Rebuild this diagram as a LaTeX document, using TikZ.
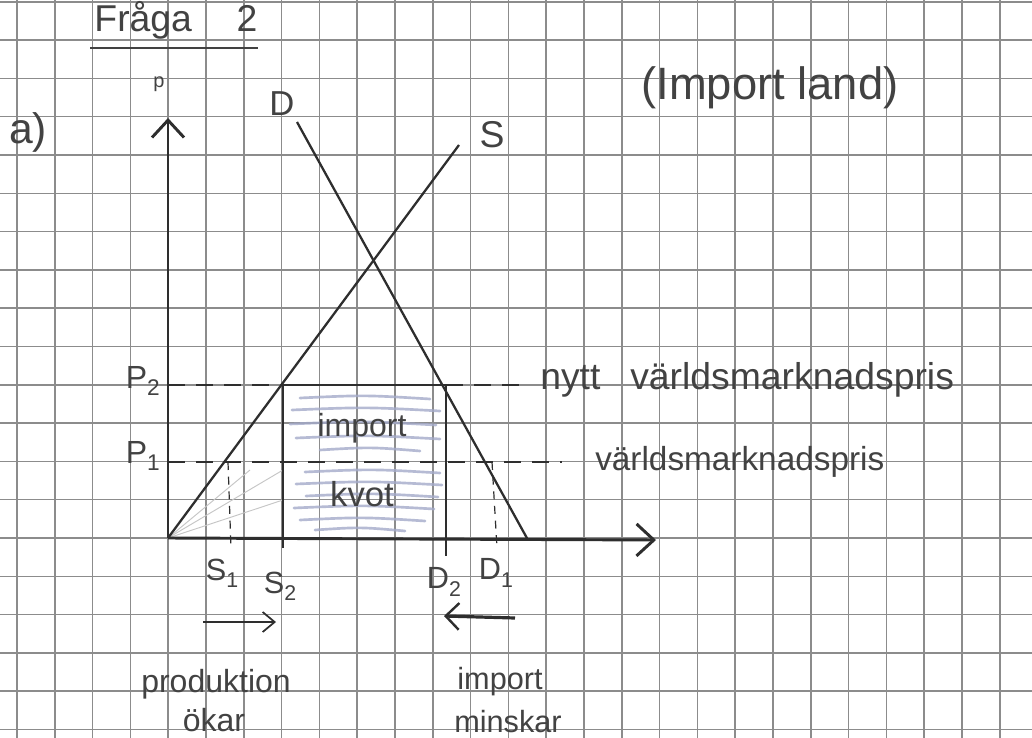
\documentclass[tikz,border=0pt]{standalone}
\usepackage{fontspec}
\setmainfont{Liberation Sans}
\usetikzlibrary{arrows.meta}
\definecolor{ink}{HTML}{2E2E2E}
\definecolor{pencil}{HTML}{424242}
\definecolor{gridc}{HTML}{8C8C8C}
\definecolor{hatchc}{HTML}{A4AACA}
\begin{document}
\begin{tikzpicture}[x=0.75pt,y=-0.75pt,
  gridline/.style={gridc, line width=1.1pt},
  axisline/.style={ink, line width=2.2pt},
  curveline/.style={ink, line width=1.7pt},
  boxline/.style={ink, line width=1.8pt},
  priceline/.style={ink, line width=1.5pt, dash pattern=on 13pt off 8pt},
  dropline/.style={ink, line width=0.9pt, dash pattern=on 6pt off 5pt},
  hatchline/.style={hatchc, line width=2pt, line cap=round, opacity=0.8},
  faintline/.style={gray!45, line width=0.7pt},
  lbl/.style={text=pencil, inner sep=0pt},
  hand/.style={font=\fontsize{#1}{#1}\selectfont},
  chev/.style={-{Straight Barb[length=13pt,width=24pt,line width=2.2pt]}}
]
\useasboundingbox (0,0) rectangle (1032,738);
\fill[white] (0,0) rectangle (1032,738);
% grid paper
\foreach \i in {0,...,26} \draw[gridline] ({17+37.8*\i},0) -- ({17+37.8*\i},738);
\foreach \j in {0,...,19} \draw[gridline] (0,{1.8+38.3*\j}) -- (1032,{1.8+38.3*\j});

% coordinates
\coordinate (O) at (168,538);
\coordinate (ytop) at (168,118);
\coordinate (xend) at (656,540);
\coordinate (Stop) at (459,145);
\coordinate (Dtop) at (297,122);
\coordinate (Dbot) at (528,540);
\coordinate (P2a) at (168,385);
\coordinate (P2s) at (283,385);
\coordinate (P2d) at (446,385);
\coordinate (P2e) at (525,385);
\coordinate (P1a) at (168,462);
\coordinate (P1e) at (562,462);
\coordinate (S1t) at (228,462);
\coordinate (S1b) at (231,548);
\coordinate (D1t) at (492,462);
\coordinate (D1b) at (497,548);
\coordinate (S2b) at (283,548);
\coordinate (D2b) at (446,556);

% faint pencil shading under S
\draw[faintline] (O) -- (283,470);
\draw[faintline] (O) -- (283,500);
\draw[faintline] (O) -- (250,470);

% hatching in import box
\foreach \y/\a/\b in {398/300/430, 410/292/440, 424/290/436, 438/296/440, 450/320/420, 472/305/440, 484/296/442, 496/306/438, 508/294/434, 520/300/425, 530/315/405}
  \draw[hatchline] (\a,\y) .. controls ({(\a+\b)/2},{\y-3}) .. (\b,{\y+1});

% axes
\draw[axisline, chev] (O) -- (ytop);
\draw[axisline, chev] (O) -- (xend);

% supply and demand
\draw[curveline] (O) -- (Stop);
\draw[curveline] (Dtop) -- (Dbot);

% price lines
\draw[priceline] (P2a) -- (P2s);
\draw[priceline] (P2d) -- (P2e);
\draw[priceline] (P1a) -- (P1e);

% import box
\draw[boxline] (S2b) -- (P2s) -- (P2d) -- (D2b);

% drop lines
\draw[dropline] (S1t) -- (S1b);
\draw[dropline] (D1t) -- (D1b);

% labels
\node[lbl, hand=28] (title) at (176,20) {Fråga\hspace{1.2em}2};
\coordinate (ul1) at (90,48);
\coordinate (ul2) at (258,48);
\draw[pencil, line width=1.6pt] (ul1) -- (ul2);
\node[lbl, hand=15] (plab) at (159,84) {p};
\node[lbl, hand=32] (alab) at (28,132) {a)};
\node[lbl, hand=26] (Dlab) at (282,104) {D};
\node[lbl, hand=28] (Slab) at (492,135) {S};
\node[lbl, hand=34] (imland) at (770,88) {(Import land)};
\node[lbl, hand=24, anchor=east] (P2lab) at (160,381) {P\raisebox{-0.45ex}{\fontsize{17}{17}\selectfont 2}};
\node[lbl, hand=24, anchor=east] (P1lab) at (160,456) {P\raisebox{-0.45ex}{\fontsize{17}{17}\selectfont 1}};
\node[lbl, hand=23] (S1lab) at (222,573) {S\raisebox{-0.45ex}{\fontsize{16}{16}\selectfont 1}};
\node[lbl, hand=23] (S2lab) at (280,586) {S\raisebox{-0.45ex}{\fontsize{16}{16}\selectfont 2}};
\node[lbl, hand=23] (D2lab) at (444,582) {D\raisebox{-0.45ex}{\fontsize{16}{16}\selectfont 2}};
\node[lbl, hand=23] (D1lab) at (496,573) {D\raisebox{-0.45ex}{\fontsize{16}{16}\selectfont 1}};
\node[lbl, hand=28, anchor=west] (nytt) at (540,380) {nytt\hspace{0.8em}världsmarknadspris};
\node[lbl, hand=25, anchor=west] (varld) at (595,462) {världsmarknadspris};
\node[lbl, hand=24] (imp) at (362,428) {import};
\node[lbl, hand=26] (kvot) at (362,494) {kvot};
\node[lbl, hand=24] (prod) at (216,684) {produktion};
\node[lbl, hand=24] (okar) at (214,720) {ökar};
\node[lbl, hand=23] (imp2) at (500,682) {import};
\node[lbl, hand=23] (mins) at (508,722) {minskar};

% shift arrows
\coordinate (ra1) at (203,622);
\coordinate (ra2) at (276,622);
\coordinate (la1) at (515,618);
\coordinate (la2) at (444,616);
\draw[ink, line width=1.3pt, -{Straight Barb[length=9pt,width=15pt,line width=1.3pt]}] (ra1) -- (ra2);
\draw[ink, line width=2.4pt, -{Straight Barb[length=10pt,width=20pt,line width=1.8pt]}] (la1) -- (la2);
\end{tikzpicture}
\end{document}
